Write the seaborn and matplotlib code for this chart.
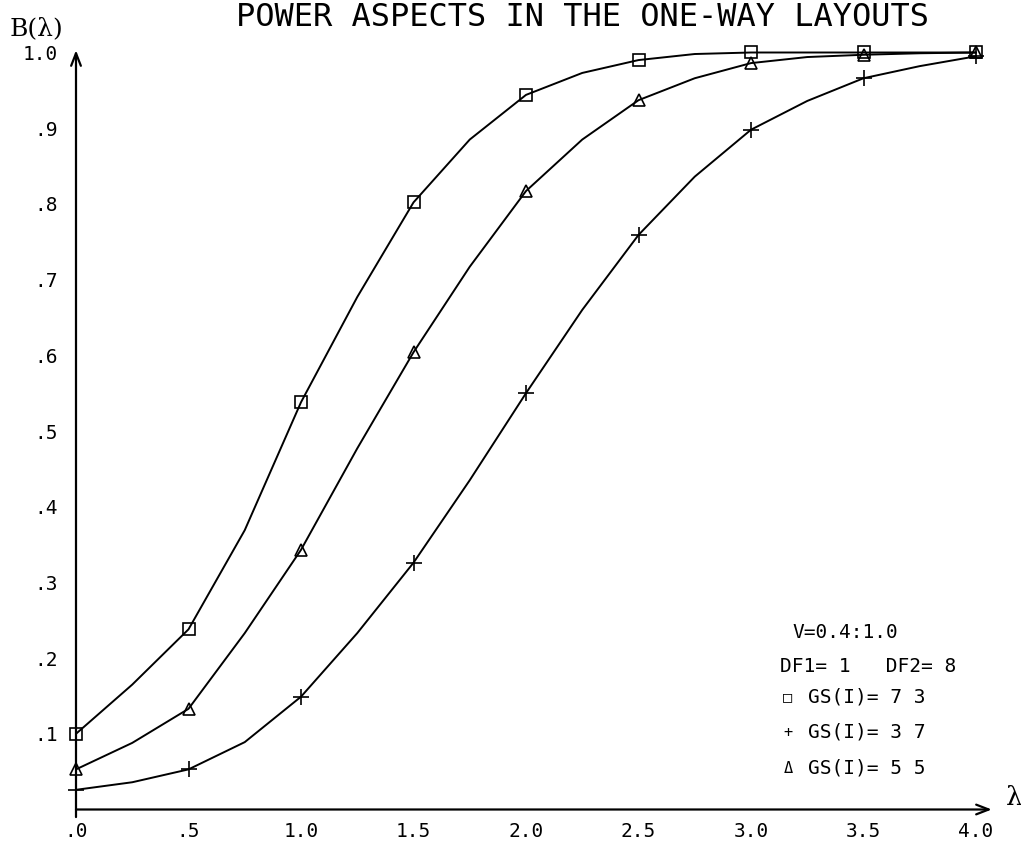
import numpy as np
import pandas as pd
import matplotlib
matplotlib.use("Agg")
import matplotlib.pyplot as plt
import seaborn as sns

# ---------------- data ----------------
lam = [0.0, 0.25, 0.5, 0.75, 1.0, 1.25, 1.5, 1.75, 2.0,
       2.25, 2.5, 2.75, 3.0, 3.25, 3.5, 3.75, 4.0]
power_gs73 = [0.100, 0.165, 0.238, 0.369, 0.538, 0.677, 0.802, 0.885, 0.944,
              0.973, 0.990, 0.998, 1.000, 1.000, 1.000, 1.000, 1.000]
power_gs37 = [0.026, 0.036, 0.053, 0.089, 0.149, 0.233, 0.326, 0.435, 0.550,
              0.660, 0.759, 0.836, 0.898, 0.936, 0.966, 0.982, 0.995]
power_gs55 = [0.053, 0.088, 0.133, 0.233, 0.343, 0.477, 0.604, 0.717, 0.817,
              0.885, 0.937, 0.966, 0.986, 0.994, 0.997, 0.999, 1.000]

series_names = ["GS(I)= 7 3", "GS(I)= 3 7", "GS(I)= 5 5"]
series_markers = ["s", "+", "^"]

xtick_vals = [0.0, 0.5, 1.0, 1.5, 2.0, 2.5, 3.0, 3.5, 4.0]
xtick_labels = [".0", ".5", "1.0", "1.5", "2.0", "2.5", "3.0", "3.5", "4.0"]
ytick_vals = [0.1, 0.2, 0.3, 0.4, 0.5, 0.6, 0.7, 0.8, 0.9, 1.0]
ytick_labels = [".1", ".2", ".3", ".4", ".5", ".6", ".7", ".8", ".9", "1.0"]

title = "POWER ASPECTS IN THE ONE-WAY LAYOUTS"
info_lines = ["V=0.4:1.0", "DF1= 1   DF2= 8"]
legend_symbols = ["\u25a1", "+", "\u0394"]

# ---------------- style ----------------
sns.set_style("white")
plt.rcParams["font.family"] = ["DejaVu Sans Mono", "DejaVu Sans"]
plt.rcParams["text.color"] = "black"

W, H = 1021, 846
fig = plt.figure(figsize=(W / 100, H / 100), dpi=100)
ax = fig.add_axes([76 / W, (H - 809.5) / H, 900 / W, 757 / H])

df = pd.DataFrame({
    "lam": lam * 3,
    "power": power_gs73 + power_gs37 + power_gs55,
    "series": sum([[n] * len(lam) for n in series_names], []),
})

for name, mk in zip(series_names, series_markers):
    sub = df[df["series"] == name]
    kw = dict(marker=mk, markevery=2, markersize=9 if mk != "+" else 11,
              markeredgewidth=1.2, markeredgecolor="black")
    if mk != "+":
        kw["markerfacecolor"] = "none"
    sns.lineplot(data=sub, x="lam", y="power", color="black", linewidth=1.4,
                 ax=ax, clip_on=False, **kw)

ax.set_xlim(0, 4.0)
ax.set_ylim(0, 1.0)
for s in ax.spines.values():
    s.set_visible(False)

ax.set_xticks(xtick_vals)
ax.set_xticklabels(xtick_labels)
ax.set_yticks(ytick_vals)
ax.set_yticklabels(ytick_labels)
ax.tick_params(axis="both", direction="inout", length=10, width=1.2,
               labelsize=14, colors="black")
ax.tick_params(axis="x", pad=4)
ax.tick_params(axis="y", pad=8)
ax.yaxis.get_major_ticks()[-1].tick1line.set_visible(False)
ax.xaxis.get_major_ticks()[0].tick1line.set_visible(False)
ax.set_xlabel("")
ax.set_ylabel("")

# axes with arrowheads
ax.annotate("", xy=(4.07, 0), xytext=(0, 0), xycoords="data",
            arrowprops=dict(arrowstyle="->,head_length=0.9,head_width=0.35",
                            color="black", lw=1.6, shrinkA=0, shrinkB=0),
            annotation_clip=False)
ax.annotate("", xy=(0, 1.003), xytext=(0, -0.01), xycoords="data",
            arrowprops=dict(arrowstyle="->,head_length=0.9,head_width=0.35",
                            color="black", lw=1.6, shrinkA=0, shrinkB=0),
            annotation_clip=False)

# texts
fig.text(582 / W, 1 - 26 / H, title, ha="center", va="baseline", fontsize=23,
         color="black")
fig.text(10 / W, 1 - 35 / H, "B(\u03bb)", ha="left", va="baseline",
         fontsize=18, family="DejaVu Serif", color="black")
fig.text(1014 / W, 1 - 797 / H, "\u03bb", ha="center", va="center",
         fontsize=19, family="DejaVu Serif", color="black")

fig.text(792 / W, 1 - 632 / H, info_lines[0], ha="left", va="center",
         fontsize=14, color="black")
fig.text(780 / W, 1 - 667 / H, info_lines[1], ha="left", va="center",
         fontsize=14, color="black")
for i, (sym, name) in enumerate(zip(legend_symbols, series_names)):
    y = 1 - (697 + 35.5 * i) / H
    fig.text(788 / W, y, sym, ha="center", va="center", fontsize=11, color="black")
    fig.text(808 / W, y, name, ha="left", va="center", fontsize=14, color="black")

fig.savefig("out.png", dpi=100, facecolor="white")
